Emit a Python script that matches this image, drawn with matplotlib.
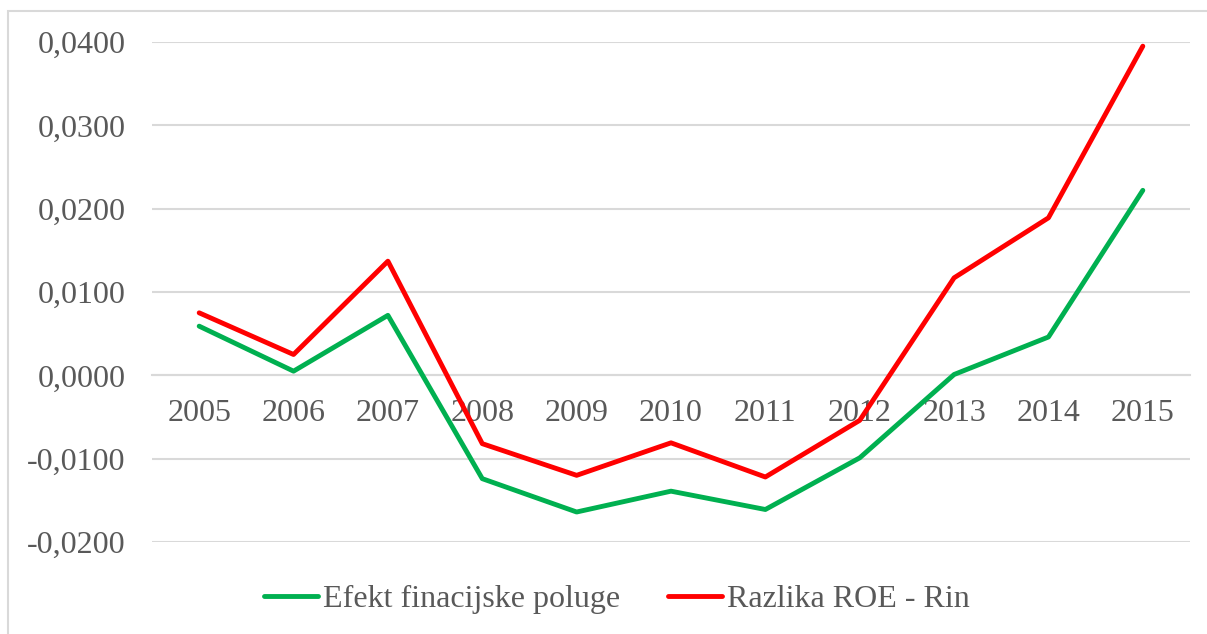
import matplotlib.pyplot as plt
from matplotlib.patches import Rectangle
from matplotlib.ticker import FuncFormatter

# Podaci ocitani s grafikona
godine = ['2005', '2006', '2007', '2008', '2009', '2010', '2011', '2012', '2013', '2014', '2015']
efekt_poluge = [0.0059, 0.0005, 0.0072, -0.0124, -0.0164, -0.0139, -0.0161, -0.0099, 0.0001, 0.0046, 0.0222]
razlika_roe_rin = [0.0075, 0.0025, 0.0137, -0.0082, -0.0120, -0.0081, -0.0122, -0.0054, 0.0117, 0.0189, 0.0395]

plt.rcParams['font.family'] = ['Liberation Serif', 'DejaVu Serif']
siva = '#595959'
mreza = '#D9D9D9'

fig = plt.figure(figsize=(12.07, 6.34), dpi=100)
W, H = 1207, 634
ax = fig.add_axes([152 / W, 1 - 542 / H, (1190 - 152) / W, (542 - 42) / H])

# okvir oko cijelog grafikona
fig.patches.append(Rectangle((8 / W, -0.05), 1.1, 1 - 11 / H + 0.05, transform=fig.transFigure,
                             fill=False, edgecolor=mreza, linewidth=1.5))

x = list(range(len(godine)))
ax.plot(x, efekt_poluge, color='#00B050', linewidth=3.5, label='Efekt finacijske poluge',
        solid_joinstyle='round', solid_capstyle='round', zorder=3)
ax.plot(x, razlika_roe_rin, color='#FF0000', linewidth=3.5, label='Razlika ROE - Rin',
        solid_joinstyle='round', solid_capstyle='round', zorder=4)

ax.set_xlim(-0.5, len(godine) - 0.5)
ax.set_ylim(-0.02, 0.04)
ax.set_yticks([-0.02, -0.01, 0.0, 0.01, 0.02, 0.03, 0.04])
ax.yaxis.set_major_formatter(FuncFormatter(lambda v, p: f'{v:.4f}'.replace('.', ',').replace('-0,0000', '0,0000')))
ax.yaxis.grid(True, color=mreza, linewidth=1.5)
ax.set_axisbelow(True)

for s in ['top', 'right', 'left']:
    ax.spines[s].set_visible(False)
ax.spines['bottom'].set_position(('data', 0))
ax.spines['bottom'].set_color(mreza)
ax.spines['bottom'].set_linewidth(1.5)

ax.set_xticks(x)
ax.set_xticklabels(godine)
ax.tick_params(axis='x', length=0, pad=17, labelsize=23, labelcolor=siva)
ax.tick_params(axis='y', length=0, pad=19, labelsize=23, labelcolor=siva)

ax.legend(loc='center', bbox_to_anchor=(617 / W, 1 - 599 / H), bbox_transform=fig.transFigure,
          ncol=2, frameon=False, fontsize=23, labelcolor=siva, handlelength=1.7,
          handletextpad=0.15, columnspacing=1.5)

plt.savefig('out.png', dpi=100)
